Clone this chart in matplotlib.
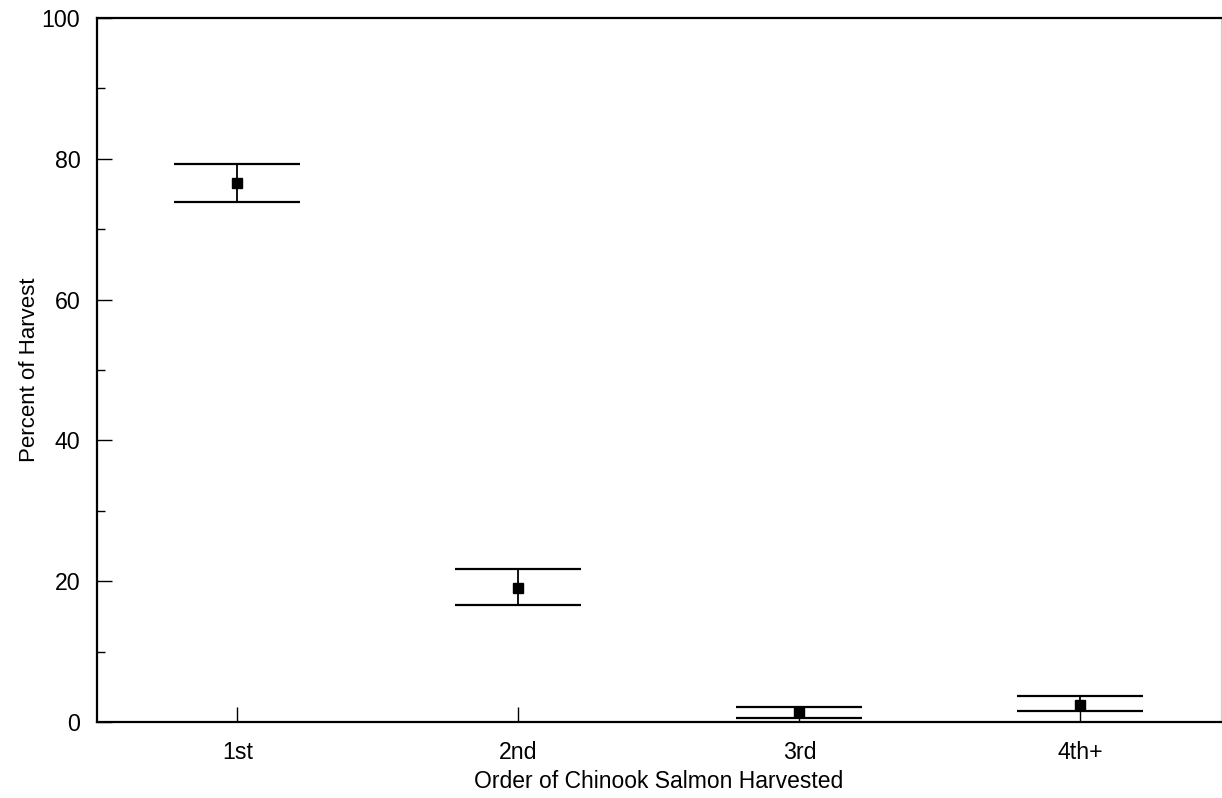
import numpy as np
import matplotlib
matplotlib.use("Agg")
import matplotlib.pyplot as plt
from matplotlib.ticker import MultipleLocator

# percent of harvest by order of chinook caught
orders = ["1st", "2nd", "3rd", "4th+"]
percent = [76.6, 19.1, 1.4, 2.4]
upper = [79.2, 21.7, 2.2, 3.7]
lower = [73.8, 16.6, 0.6, 1.6]

plt.rcParams["font.family"] = ["Liberation Sans", "DejaVu Sans"]

fig = plt.figure(figsize=(12.22, 7.98), dpi=100)
ax = fig.add_axes([0.0794, 0.0952, 0.9196, 0.8822])

x = np.arange(1, len(orders) + 1)
yerr = [np.array(percent) - np.array(lower), np.array(upper) - np.array(percent)]
ax.errorbar(x, percent, yerr=yerr, fmt="s", color="black", markersize=7.5,
            elinewidth=1.3, capsize=45.5, capthick=1.6)

ax.set_xlim(0.5, 4.5)
ax.set_ylim(0, 100)
ax.set_xticks(x)
ax.set_xticklabels(orders)
ax.yaxis.set_major_locator(MultipleLocator(20))
ax.yaxis.set_minor_locator(MultipleLocator(10))

ax.tick_params(axis="both", which="major", direction="in", length=11, width=1, labelsize=16.7)
ax.tick_params(axis="x", pad=14)
ax.tick_params(axis="y", pad=12)
ax.tick_params(axis="y", which="minor", direction="in", length=6, width=1)

for side in ["left", "bottom", "top"]:
    ax.spines[side].set_linewidth(1.6)
ax.spines["right"].set_color("#cccccc")
ax.spines["right"].set_linewidth(0.8)

ax.set_xlabel("Order of Chinook Salmon Harvested", fontsize=16.5, labelpad=4)
ax.set_ylabel("Percent of Harvest", fontsize=16, labelpad=1)

fig.savefig("out.png", dpi=100)
